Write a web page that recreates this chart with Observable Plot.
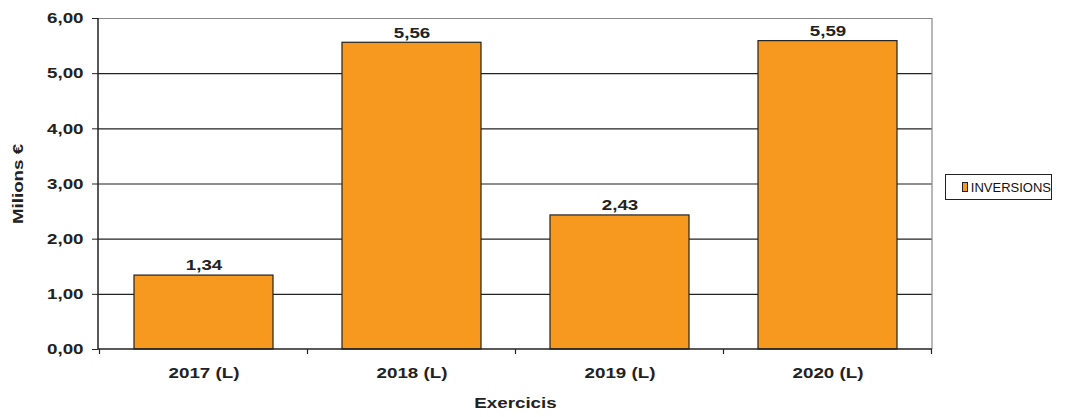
<!DOCTYPE html>
<html>
<head>
<meta charset="utf-8">
<script src="https://cdn.jsdelivr.net/npm/d3@7"></script>
<script src="https://cdn.jsdelivr.net/npm/@observablehq/plot@0.6"></script>
<style>
  html, body { margin: 0; padding: 0; background: #fff; }
  #wrap { position: relative; width: 1076px; height: 417px; font-family: "Liberation Sans", Arial, sans-serif; }
  #legend { position: absolute; left: 945px; top: 174px; width: 107px; height: 26px; box-sizing: border-box;
    border: 1px solid #222; background: #fff; display: flex; align-items: center; font-size: 13px; color: #111; }
  #legend .sw { width: 8px; height: 8px; border: 1px solid #222; background: #f7991f; margin-left: 16px; margin-right: 3px; }
</style>
</head>
<body>
<div id="wrap"><div id="legend"><span class="sw"></span><span>INVERSIONS</span></div></div>
<script>
const categories = ["2017 (L)", "2018 (L)", "2019 (L)", "2020 (L)"];
const values = [1.34, 5.56, 2.43, 5.59];
const yTicks = [0, 1, 2, 3, 4, 5, 6];
const seriesName = "INVERSIONS";

const data = categories.map((c, i) => ({cat: c, v: values[i]}));
const fmt = v => d3.format(".2f")(v).replace(".", ",");
const textColor = "#222";
const fs = 15;
const stretch = 1.25;

const frameAndTicks = (index, scales, values, dims, context) => {
  const g = d3.select(context.document.createElementNS("http://www.w3.org/2000/svg", "g"));
  const x = scales.x, y = scales.y;
  const step = x(categories[1]) - x(categories[0]);
  const bw = x.bandwidth ? x.bandwidth() : step * 0.667;
  const pad = (step - bw) / 2;
  const y0 = y(0), yTop = y(6);
  const xs = categories.map(c => x(c) - pad).concat([x(categories[categories.length - 1]) + bw + pad]);
  for (const px of xs) {
    g.append("line").attr("x1", px).attr("x2", px).attr("y1", y0).attr("y2", y0 + 5)
      .attr("stroke", "#222").attr("stroke-width", 1.2);
  }
  const x0 = dims.marginLeft, x1 = dims.width - dims.marginRight;
  g.append("line").attr("x1", x1).attr("x2", x1).attr("y1", yTop).attr("y2", y0).attr("stroke", "#888").attr("stroke-width", 1.2);
  g.append("line").attr("x1", x0).attr("x2", x0).attr("y1", yTop).attr("y2", y0).attr("stroke", "#222").attr("stroke-width", 1.5);
  g.append("line").attr("x1", x0).attr("x2", x1).attr("y1", y0).attr("y2", y0).attr("stroke", "#222").attr("stroke-width", 1.5);
  return g.node();
};

const chart = Plot.plot({
  width: 1076,
  height: 417,
  marginLeft: 98,
  marginRight: 144,
  marginTop: 18,
  marginBottom: 68,
  style: {fontFamily: "'Liberation Sans', Arial, sans-serif", fontSize: fs + "px", fontWeight: "bold", color: textColor, background: "transparent"},
  x: {domain: categories, paddingInner: 0.333, paddingOuter: 0.1665, label: null},
  y: {domain: [0, 6], label: null},
  marks: [
    Plot.ruleY(yTicks.filter(t => t > 0 && t < 6), {stroke: "#222", strokeWidth: 1.2}),
    Plot.ruleY([6], {stroke: "#888", strokeWidth: 1.2}),
    Plot.barY(data, {x: "cat", y: "v", fill: "#f7991f", stroke: "#222", strokeWidth: 1.2}),
    Plot.text(data, {x: "cat", y: "v", text: d => fmt(d.v), dy: -10, fontSize: fs, fontWeight: "bold", fill: textColor}),
    Plot.ruleY([0], {stroke: "#222", render: frameAndTicks}),
    Plot.axisY({ticks: yTicks, tickFormat: fmt, tickSize: 6, tickPadding: 9, stroke: "#222", fontSize: fs, fontWeight: "bold", fill: textColor, label: null}),
    Plot.axisX({tickSize: 0, tickPadding: 18, fontSize: fs, fontWeight: "bold", fill: textColor, label: null}),
    Plot.text(["Milions €"], {frameAnchor: "left", textAnchor: "middle", dx: -80, rotate: -90, fontSize: fs, fontWeight: "bold", fill: textColor}),
    Plot.text(["Exercicis"], {frameAnchor: "bottom", dy: 58, fontSize: fs, fontWeight: "bold", fill: textColor})
  ]
});
document.getElementById("wrap").prepend(chart);
// widen glyphs horizontally to match the reference's stretched lettering
chart.querySelectorAll("text").forEach(t => {
  if (t.querySelector("tspan")) return;
  const len = t.getComputedTextLength();
  if (len > 0) {
    t.setAttribute("textLength", (len * stretch).toFixed(2));
    t.setAttribute("lengthAdjust", "spacingAndGlyphs");
  }
});
</script>
</body>
</html>
